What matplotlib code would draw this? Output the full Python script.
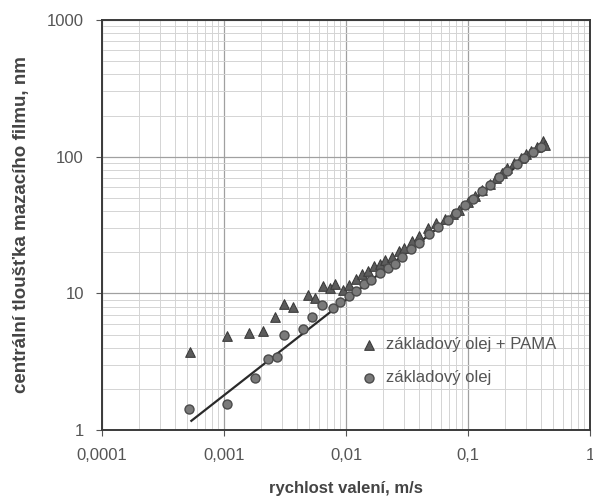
"""
Tloustka mazaciho filmu vs. rychlost valeni
"""

# Imports
import matplotlib
matplotlib.use("Agg")
import matplotlib.pyplot as plt
from matplotlib.ticker import FixedLocator, LogLocator, NullFormatter

# Data
# základový olej + PAMA
pama_x = [0.00053, 0.00106, 0.0016, 0.0021, 0.0026, 0.0031, 0.0037, 0.0049, 0.0056,
          0.0065, 0.0074, 0.0082, 0.0095, 0.0105, 0.012, 0.0135, 0.015, 0.017, 0.019,
          0.021, 0.024, 0.027, 0.030, 0.035, 0.040, 0.047, 0.055, 0.065, 0.075, 0.085,
          0.10, 0.115, 0.13, 0.15, 0.17, 0.19, 0.21, 0.24, 0.27, 0.30, 0.33, 0.37,
          0.41, 0.43]
pama_y = [3.7, 4.85, 5.1, 5.3, 6.7, 8.4, 7.9, 9.7, 9.3,
          11.4, 11.0, 11.8, 10.6, 11.5, 12.8, 13.9, 14.5, 15.8, 16.4,
          17.5, 18.6, 20.5, 21.5, 24.0, 26.5, 30.0, 32.5, 35.0, 38.0, 41.0,
          47.0, 52.0, 57.0, 63.0, 70.0, 76.0, 82.0, 90.0, 97.0, 104.0, 110.0, 118.0,
          130.0, 122.0]

# základový olej
base_x = [0.00052, 0.00106, 0.0018, 0.0023, 0.0027, 0.0031, 0.0044, 0.0053, 0.0063,
          0.0078, 0.009, 0.0105, 0.012, 0.014, 0.016, 0.019, 0.022, 0.025, 0.029,
          0.034, 0.040, 0.048, 0.057, 0.068, 0.08, 0.095, 0.11, 0.13, 0.15, 0.18,
          0.21, 0.25, 0.29, 0.34, 0.40]
base_y = [1.42, 1.55, 2.4, 3.3, 3.4, 5.0, 5.5, 6.7, 8.2,
          7.8, 8.6, 9.6, 10.5, 11.8, 12.6, 14.0, 15.4, 16.5, 18.5,
          21.0, 23.5, 27.0, 30.5, 34.5, 39.0, 44.0, 49.0, 56.0, 62.0, 71.0,
          79.0, 89.0, 98.0, 108.0, 118.0]

# Fit line (end points)
fit_x = [0.00054, 0.43]
fit_y = [1.17, 124.0]

x_ticks = [0.0001, 0.001, 0.01, 0.1, 1]
x_labels = ["0,0001", "0,001", "0,01", "0,1", "1"]
y_ticks = [1, 10, 100, 1000]
y_labels = ["1", "10", "100", "1000"]

# Plot
plt.rcParams["font.family"] = ["Liberation Sans", "DejaVu Sans"]
fig = plt.figure(figsize=(5.93, 4.99), dpi=100)
ax = fig.add_axes([0.172, 0.138, 0.823, 0.822])

ax.set_xscale("log")
ax.set_yscale("log")
ax.set_xlim(0.0001, 1)
ax.set_ylim(1, 1000)

# Grid
ax.xaxis.set_minor_locator(LogLocator(base=10, subs=range(2, 10)))
ax.yaxis.set_minor_locator(LogLocator(base=10, subs=range(2, 10)))
ax.xaxis.set_minor_formatter(NullFormatter())
ax.yaxis.set_minor_formatter(NullFormatter())
ax.grid(True, which="major", color="#a0a0a0", lw=0.9)
ax.grid(True, which="minor", color="#d4d4d4", lw=0.7)
ax.set_axisbelow(True)

ax.plot(fit_x, fit_y, color="#2a2a2a", lw=1.6, zorder=3)
ax.scatter(pama_x, pama_y, marker="^", s=48, facecolor="#5c5c5c", edgecolor="#3c3c3c",
           lw=0.8, zorder=4, label="základový olej + PAMA")
ax.scatter(base_x, base_y, marker="o", s=42, facecolor="#7a7a7a", edgecolor="#4a4a4a",
           lw=1.0, zorder=4, label="základový olej")

# Axes
ax.xaxis.set_major_locator(FixedLocator(x_ticks))
ax.yaxis.set_major_locator(FixedLocator(y_ticks))
ax.set_xticklabels(x_labels)
ax.set_yticklabels(y_labels)
ax.tick_params(which="major", direction="out", length=4, color="#555555",
               labelsize=12, labelcolor="#555555", pad=9)
ax.tick_params(which="minor", length=0)
for s in ax.spines.values():
    s.set_color("#3a3a3a")
    s.set_linewidth(1.4)

ax.set_xlabel("rychlost valení, m/s", fontsize=12, fontweight="bold", color="#444444",
              labelpad=13)
ax.set_ylabel("centrální tloušťka mazacího filmu, nm", fontsize=13.5, fontweight="bold",
              color="#444444", labelpad=12)

leg = ax.legend(loc="center left", bbox_to_anchor=(0.50, 0.168), frameon=False,
                fontsize=12, labelspacing=1.1, handlelength=1.0, handletextpad=0.5,
                markerscale=1.0)
for t in leg.get_texts():
    t.set_color("#555555")

fig.savefig("out.png", dpi=100)
plt.close(fig)
